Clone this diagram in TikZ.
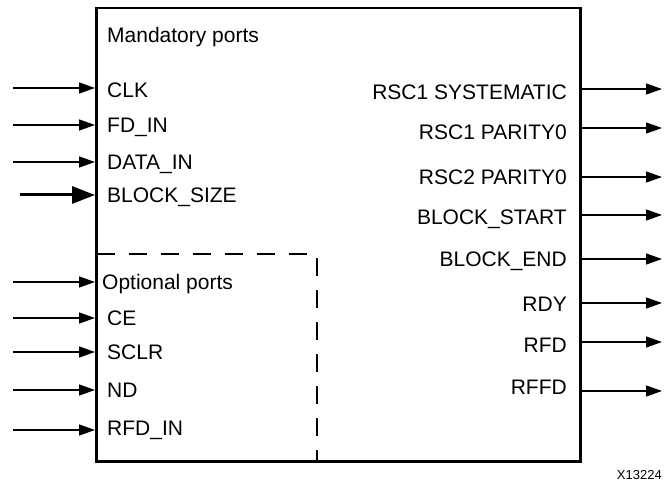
\documentclass[tikz,border=0pt]{standalone}
\usepackage{fontspec}
\setmainfont{Liberation Sans}
\usetikzlibrary{arrows.meta}

\begin{document}
\begin{tikzpicture}[x=1pt, y=-1pt,
  port/.style={font=\fontsize{21}{24}\selectfont, inner sep=0pt, text height=15pt, text depth=0pt},
  sig/.style={line width=1.3pt, -{Triangle[length=16pt, width=11pt]}},
  bus/.style={line width=3pt, -{Triangle[length=23pt, width=17pt]}}]
 \useasboundingbox (0,0) rectangle (670,484);
 \node[draw, line width=2.5pt, inner sep=0pt, minimum width=484pt, minimum height=453pt, anchor=north west] (core) at (95,7) {};
 % optional ports region
 \coordinate (optcorner) at (317,254);
 \draw[line width=2.5pt, dash pattern=on 18pt off 14pt, dash phase=-2pt] (core.west |- optcorner) -| (core.south -| optcorner);

 % inputs
 \node[port, anchor=west] (mand) at (107,35) {Mandatory ports};
 \node[port, anchor=west] (clk) at (107,90) {CLK};
 \node[port, anchor=west] (fdin) at (107,125) {FD\_IN};
 \node[port, anchor=west] (datain) at (107,162) {DATA\_IN};
 \node[port, anchor=west] (bsize) at (107,195) {BLOCK\_SIZE};
 \node[port, anchor=west] (opt) at (102,282) {Optional ports};
 \node[port, anchor=west] (ce) at (107,318) {CE};
 \node[port, anchor=west] (sclr) at (107,352) {SCLR};
 \node[port, anchor=west] (nd) at (107,390) {ND};
 \node[port, anchor=west] (rfdin) at (107,428) {RFD\_IN};

 \coordinate (clk-src) at (13,88);
 \coordinate (fdin-src) at (13,125);
 \coordinate (datain-src) at (13,162);
 \coordinate (bsize-src) at (20,195);
 \coordinate (opt-src) at (13,282);
 \coordinate (ce-src) at (13,318);
 \coordinate (sclr-src) at (13,352);
 \coordinate (nd-src) at (13,390);
 \coordinate (rfdin-src) at (13,430);
 \draw[sig] (clk-src) -- (core.west |- clk-src);
 \draw[sig] (fdin-src) -- (core.west |- fdin-src);
 \draw[sig] (datain-src) -- (core.west |- datain-src);
 \draw[bus] (bsize-src) -- (core.west |- bsize-src);
 \draw[sig] (opt-src) -- (core.west |- opt-src);
 \draw[sig] (ce-src) -- (core.west |- ce-src);
 \draw[sig] (sclr-src) -- (core.west |- sclr-src);
 \draw[sig] (nd-src) -- (core.west |- nd-src);
 \draw[sig] (rfdin-src) -- (core.west |- rfdin-src);

 % outputs
 \node[port, anchor=east] (sys1) at (567,92) {RSC1 SYSTEMATIC};
 \node[port, anchor=east] (par1) at (567,132) {RSC1 PARITY0};
 \node[port, anchor=east] (par2) at (567,177) {RSC2 PARITY0};
 \node[port, anchor=east] (bstart) at (567,217) {BLOCK\_START};
 \node[port, anchor=east] (bend) at (567,259) {BLOCK\_END};
 \node[port, anchor=east] (rdy) at (567,304) {RDY};
 \node[port, anchor=east] (rfd) at (567,345) {RFD};
 \node[port, anchor=east] (rffd) at (567,387) {RFFD};

 \coordinate (sys1-dst) at (662,89);
 \coordinate (par1-dst) at (662,128);
 \coordinate (par2-dst) at (662,177);
 \coordinate (bstart-dst) at (662,215);
 \coordinate (bend-dst) at (662,259);
 \coordinate (rdy-dst) at (662,303);
 \coordinate (rfd-dst) at (662,342);
 \coordinate (rffd-dst) at (662,391);
 \draw[sig] (core.east |- sys1-dst) -- (sys1-dst);
 \draw[sig] (core.east |- par1-dst) -- (par1-dst);
 \draw[sig] (core.east |- par2-dst) -- (par2-dst);
 \draw[sig] (core.east |- bstart-dst) -- (bstart-dst);
 \draw[sig] (core.east |- bend-dst) -- (bend-dst);
 \draw[sig] (core.east |- rdy-dst) -- (rdy-dst);
 \draw[sig] (core.east |- rfd-dst) -- (rfd-dst);
 \draw[sig] (core.east |- rffd-dst) -- (rffd-dst);

 \node[font=\fontsize{13}{15}\selectfont, inner sep=0pt, anchor=east] (figid) at (662,475) {X13224};
\end{tikzpicture}
\end{document}
